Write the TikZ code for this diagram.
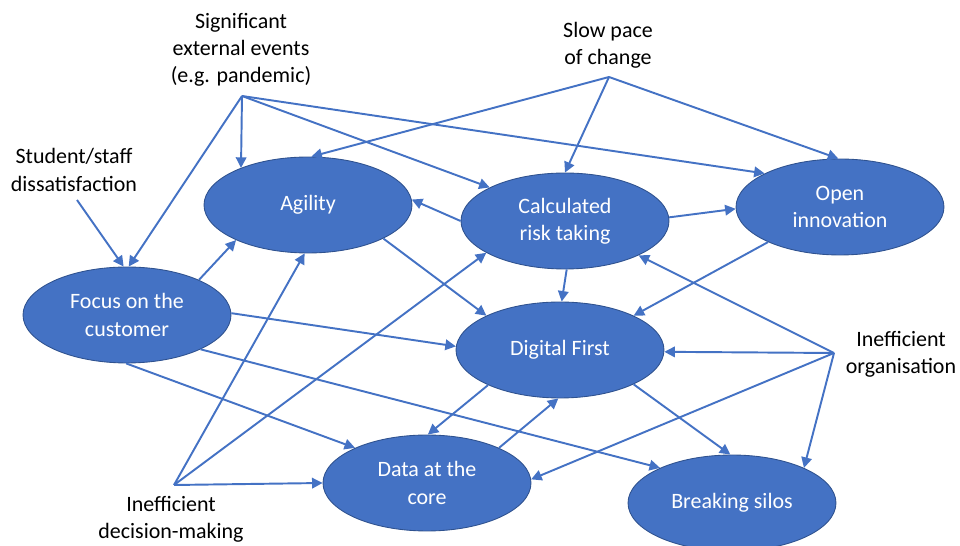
\documentclass[tikz,border=0pt]{standalone}
\usepackage{fontspec}
\setmainfont{Carlito}
\usetikzlibrary{shapes,arrows.meta}
\definecolor{goalblue}{HTML}{4472C4}
\definecolor{goaledge}{HTML}{2F528F}
\tikzset{goal/.style={ellipse,draw=goaledge,line width=0.5pt,fill=goalblue,
   text=white,minimum width=4.16cm,minimum height=1.92cm,inner sep=0pt,
   align=center,font=\fontsize{12.5}{15.5}\selectfont},
 driver/.style={align=center,font=\fontsize{12.5}{15.5}\selectfont},
 link/.style={draw=goalblue,line width=1.1pt,-{Triangle[length=6pt,width=6pt]}},
 }

\begin{document}
\begin{tikzpicture}[x=0.02cm,y=-0.02cm]
    \useasboundingbox (0,0) rectangle (960,546);
    \node[goal] (agility) at (308,205) {Agility};
    \node[goal] (risk) at (565,221) {Calculated\\risk taking};
    \node[goal] (open) at (840,207) {Open\\innovation};
    \node[goal] (customer) at (127,315) {Focus on the\\customer};
    \node[goal] (digital) at (560,350) {Digital First};
    \node[goal] (data) at (427,483) {Data at the\\core};
    \node[goal] (silos) at (732,503) {Breaking silos};

    \node[driver] at (241,50) {Significant\\external events\\(e.g. pandemic)};
    \node[driver] at (608,45) {Slow pace\\of change};
    \node[driver] at (74,170) {Student/staff\\dissatisfaction};
    \node[driver] at (901,354) {Inefficient\\organisation};
    \node[driver] at (171,519) {Inefficient\\decision-making};
    \coordinate (events) at (242,96);
    \coordinate (pace) at (609,77);
    \coordinate (staff) at (77,200);
    \coordinate (org) at (834,353);
    \coordinate (decide) at (174,485);

    \draw[link] (events) -- (agility.151);
    \draw[link] (events) -- (customer.88);
    \draw[link] (events) -- (risk.156);
    \draw[link] (events) -- (open.156);
    \draw[link] (pace) -- (agility.86);
    \draw[link] (pace) -- (risk.90);
    \draw[link] (pace) -- (open.92);
    \draw[link] (staff) -- (customer.94);

    \draw[link] (customer.26) -- (agility.206);
    \draw[link] (customer.1) -- (digital.178);
    \draw[link] (customer.269) -- (data.154);
    \draw[link] (customer.335) -- (silos.154);
    \draw[link] (agility.336) -- (digital.155);
    \draw[link] (risk.180) -- (agility.3);
    \draw[link] (risk.2) -- (open.181);
    \draw[link] (risk.272) -- (digital.88);
    \draw[link] (open.206) -- (digital.25);
    \draw[link] (digital.206) -- (data.89);
    \draw[link] (digital.335) -- (silos.92);
    \draw[link] (data.26) -- (digital.268);

    \draw[link] (decide) -- (agility.266);
    \draw[link] (decide) -- (risk.202);
    \draw[link] (decide) -- (data.180);
    \draw[link] (org) -- (risk.335);
    \draw[link] (org) -- (digital.359);
    \draw[link] (org) -- (data.2);
    \draw[link] (org) -- (silos.26);
\end{tikzpicture}
\end{document}
